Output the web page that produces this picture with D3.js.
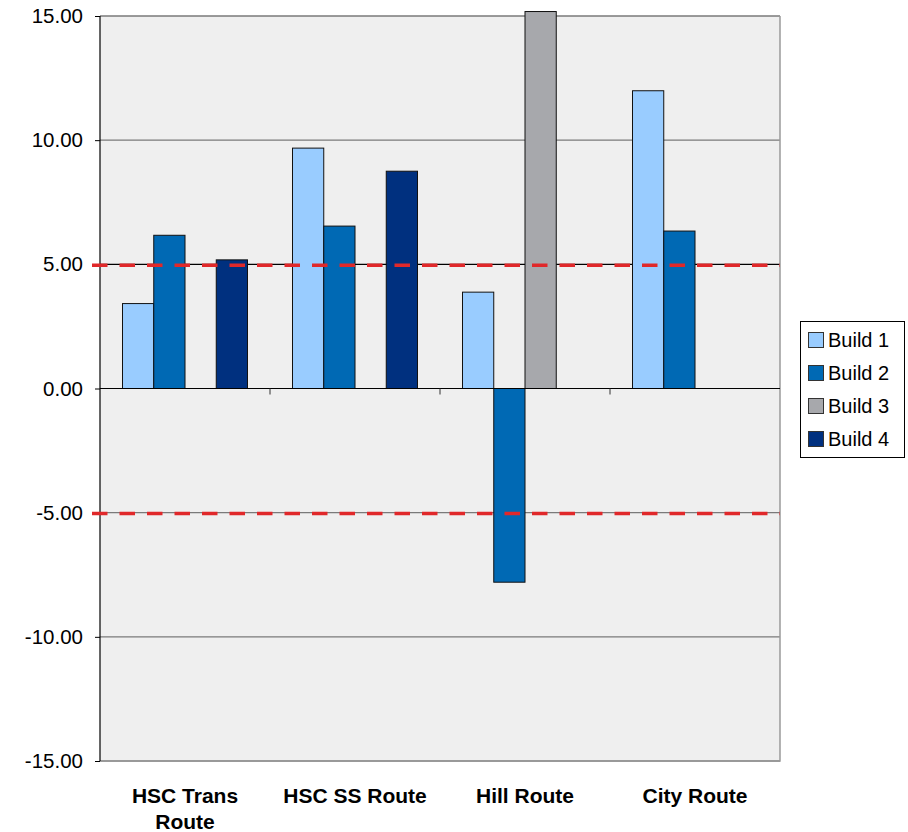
<!DOCTYPE html>
<html><head><meta charset="utf-8">
<script src="https://cdn.jsdelivr.net/npm/d3@7"></script>
<style>body{margin:0;background:#fff}svg{display:block;font-family:"Liberation Sans",Arial,sans-serif}</style>
</head><body><svg id="c" width="908" height="832"></svg>
<script>
const categories = [["HSC Trans","Route"],["HSC SS Route"],["Hill Route"],["City Route"]];
const series = ["Build 1","Build 2","Build 3","Build 4"];
const build1 = [3.42, 9.68, 3.88, 11.99];
const build2 = [6.17, 6.54, -7.80, 6.34];
const build3 = [null, null, 15.18, null];
const build4 = [5.18, 8.75, null, null];
const yTicks = [15, 10, 5, 0, -5, -10, -15];
const thresholds = [5, -5];
const colors = ["#99ccff", "#0069b4", "#a7a8ac", "#00307f"];

const values = [build1, build2, build3, build4];
const catKeys = categories.map(c => c.join(" "));
const svg = d3.select("#c");
const L = 100, R = 780, T = 16, B = 761;

const x0 = d3.scaleBand().domain(catKeys).range([L, R]).padding(0);
const x1 = d3.scaleBand().domain(series).range([0, x0.bandwidth()]).paddingInner(0).paddingOuter(0.72);
const y = d3.scaleLinear().domain([-15, 15]).range([B, T]);

// plot background
svg.append("rect").attr("x", L).attr("y", T).attr("width", R - L).attr("height", B - T).attr("fill", "#efefef");

// gridlines
svg.append("g").selectAll("line").data(yTicks.filter(v => v !== 0)).join("line")
  .attr("x1", L).attr("x2", R).attr("y1", d => y(d)).attr("y2", d => y(d))
  .attr("stroke", d => d === 5 ? "#000" : "#7a7a7a").attr("stroke-width", 1.3);

// plot border right & bottom
svg.append("path").attr("d", `M${R},${T}V${B}H${L}`).attr("fill", "none").attr("stroke", "#9a9a9a").attr("stroke-width", 1.5);

// bars
const bars = [];
series.forEach((s, si) => values[si].forEach((v, ci) => { if (v !== null) bars.push({s, v, c: catKeys[ci], si}); }));
svg.append("g").selectAll("rect").data(bars).join("rect")
  .attr("x", d => x0(d.c) + x1(d.s))
  .attr("width", x1.bandwidth())
  .attr("y", d => y(Math.max(0, d.v)))
  .attr("height", d => Math.abs(y(d.v) - y(0)))
  .attr("fill", d => colors[d.si])
  .attr("stroke", "#111").attr("stroke-width", 1);

// zero line
svg.append("line").attr("x1", L).attr("x2", R).attr("y1", y(0)).attr("y2", y(0)).attr("stroke", "#000").attr("stroke-width", 1.2);
// category ticks
svg.append("g").selectAll("line").data(catKeys.slice(1)).join("line")
  .attr("x1", d => x0(d)).attr("x2", d => x0(d)).attr("y1", y(0)).attr("y2", y(0) + 6)
  .attr("stroke", "#333").attr("stroke-width", 1);

// y axis
const yAxis = d3.axisLeft(y).tickValues(yTicks).tickSize(5).tickPadding(12).tickFormat(d3.format(".2f"));
const ga = svg.append("g").attr("transform", `translate(${L},0)`).call(yAxis);
ga.select(".domain").attr("stroke", "#000").attr("stroke-width", 1.2).attr("d", `M0,${T}V${B}`);
ga.selectAll(".tick line").attr("stroke", "#000");
ga.selectAll(".tick text").attr("font-size", 20.5).attr("fill", "#000").attr("font-family", "Liberation Sans, Arial, sans-serif").text(d => d3.format(".2f")(d).replace("−","-"));

// threshold dashed lines
svg.append("g").selectAll("line").data(thresholds).join("line")
  .attr("x1", 92).attr("x2", R).attr("y1", d => y(d) + 0.8).attr("y2", d => y(d) + 0.8)
  .attr("stroke", "#e0282a").attr("stroke-width", 3.5).attr("stroke-dasharray", "15.5,12");

// category labels
const cl = svg.append("g").selectAll("text").data(categories).join("text")
  .attr("x", (d, i) => x0(catKeys[i]) + x0.bandwidth() / 2)
  .attr("y", 803).attr("text-anchor", "middle").attr("font-size", 21).attr("font-weight", "bold").attr("fill", "#000");
cl.each(function(d) {
  const t = d3.select(this);
  d.forEach((line, k) => t.append("tspan").attr("x", t.attr("x")).attr("dy", k === 0 ? 0 : 26).text(line));
});

// legend
const lg = svg.append("g");
lg.append("rect").attr("x", 800.5).attr("y", 321.5).attr("width", 104).attr("height", 136).attr("fill", "#fff").attr("stroke", "#000").attr("stroke-width", 1);
const li = lg.selectAll("g").data(series).join("g").attr("transform", (d, i) => `translate(808,${340 + i * 33})`);
li.append("rect").attr("x", 0.5).attr("y", -7.5).attr("width", 15).attr("height", 15).attr("fill", (d, i) => colors[i]).attr("stroke", "#333").attr("stroke-width", 1);
li.append("text").attr("x", 20).attr("y", 0).attr("dy", "0.36em").attr("font-size", 20).attr("fill", "#000").text(d => d);
</script></body></html>
